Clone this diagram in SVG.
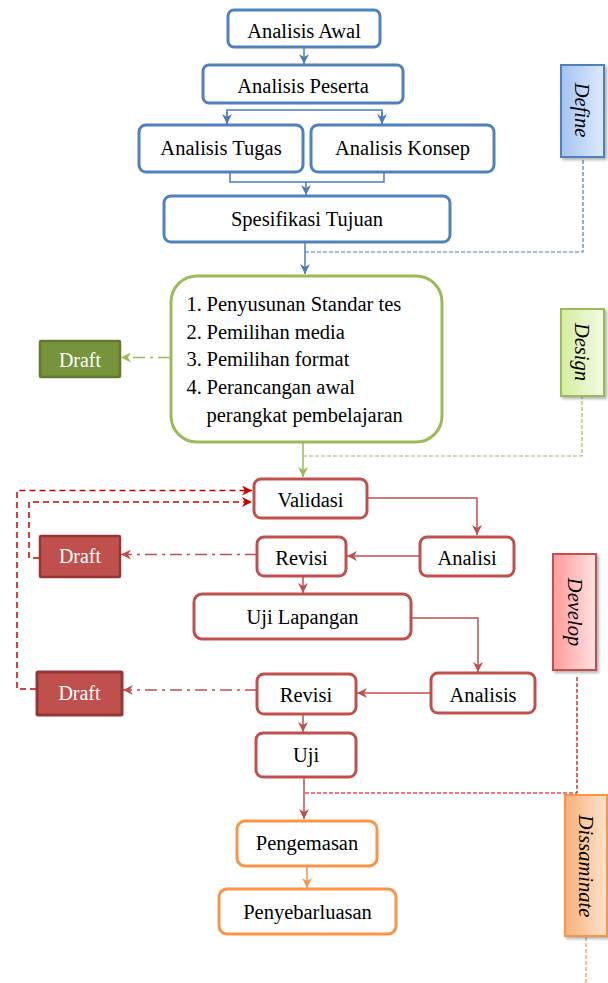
<svg xmlns="http://www.w3.org/2000/svg" width="608" height="983" viewBox="0 0 608 983">
<style>
text{font-family:"Liberation Serif","Times New Roman",serif;font-size:20.5px;fill:#000}
.c{text-anchor:middle}
.side{font-style:italic;text-anchor:middle;dominant-baseline:central}
.wt{fill:#fff;font-size:20px;text-anchor:middle}
.bb{fill:#fff;stroke:#4f81bd;stroke-width:3}
.gb{fill:#fff;stroke:#9bbb59;stroke-width:3}
.rb{fill:#fff;stroke:#c0504d;stroke-width:3}
.ob{fill:#fff;stroke:#f79646;stroke-width:3}
.bl{fill:none;stroke:#4a7ebb;stroke-width:1.5}
.gl{fill:none;stroke:#9bbb59;stroke-width:1.5}
.rl{fill:none;stroke:#c0504d;stroke-width:1.5}
.ol{fill:none;stroke:#f79646;stroke-width:1.5}
.dd{stroke-dasharray:4 2;stroke-width:1.2}
.dash{fill:none;stroke:#cc0000;stroke-width:1.5;stroke-dasharray:6 4}
.dashdot{stroke-dasharray:12 5 3 5}
</style>
<defs>
<marker id="ab" viewBox="0 0 10 10" refX="10" refY="5" markerWidth="10" markerHeight="10" markerUnits="userSpaceOnUse" orient="auto"><path d="M0,0 L10,5 L0,10 L3,5 z" fill="#4a7ebb"/></marker>
<marker id="ag" viewBox="0 0 10 10" refX="10" refY="5" markerWidth="10" markerHeight="10" markerUnits="userSpaceOnUse" orient="auto"><path d="M0,0 L10,5 L0,10 L3,5 z" fill="#9bbb59"/></marker>
<marker id="ar" viewBox="0 0 10 10" refX="10" refY="5" markerWidth="10" markerHeight="10" markerUnits="userSpaceOnUse" orient="auto"><path d="M0,0 L10,5 L0,10 L3,5 z" fill="#c0504d"/></marker>
<marker id="ard" viewBox="0 0 10 10" refX="10" refY="5" markerWidth="10" markerHeight="10" markerUnits="userSpaceOnUse" orient="auto"><path d="M0,0 L10,5 L0,10 L3,5 z" fill="#cc0000"/></marker>
<marker id="ao" viewBox="0 0 10 10" refX="10" refY="5" markerWidth="10" markerHeight="10" markerUnits="userSpaceOnUse" orient="auto"><path d="M0,0 L10,5 L0,10 L3,5 z" fill="#f79646"/></marker>
<linearGradient id="gBlue" x1="0" x2="1" y1="0" y2="0"><stop offset="0" stop-color="#a2c3f3"/><stop offset="1" stop-color="#dfeafb"/></linearGradient>
<linearGradient id="gGreen" x1="0" x2="1" y1="0" y2="0"><stop offset="0" stop-color="#d3ee9c"/><stop offset="1" stop-color="#f3fae4"/></linearGradient>
<linearGradient id="gRed" x1="0" x2="1" y1="0" y2="0"><stop offset="0" stop-color="#ff9a9a"/><stop offset="1" stop-color="#ffe3e3"/></linearGradient>
<linearGradient id="gOrange" x1="0" x2="1" y1="0" y2="0"><stop offset="0" stop-color="#fab07a"/><stop offset="1" stop-color="#fde3cc"/></linearGradient>
<filter id="sh" x="-20%" y="-20%" width="150%" height="150%"><feDropShadow dx="2" dy="2" stdDeviation="1.5" flood-color="#000" flood-opacity="0.3"/></filter>
</defs>

<g id="connectors">
<line class="bl" x1="304" y1="48" x2="304" y2="64" marker-end="url(#ab)"/>
<path class="bl" d="M227,124 V110 H382 V124" />
<line class="bl" x1="227" y1="112" x2="227" y2="124" marker-end="url(#ab)"/>
<line class="bl" x1="382" y1="112" x2="382" y2="124" marker-end="url(#ab)"/>
<path class="bl" d="M230,173 V182 H384 V173"/>
<line class="bl" x1="306" y1="182" x2="306" y2="195" marker-end="url(#ab)"/>
<line class="bl" x1="305" y1="242" x2="305" y2="274" marker-end="url(#ab)"/>
<path class="bl dd" d="M305,252 H583 V157"/>
<line class="gl dashdot" x1="170" y1="357.5" x2="121" y2="357.5" marker-end="url(#ag)"/>
<line class="gl" x1="303" y1="443" x2="303" y2="477" marker-end="url(#ag)"/>
<path class="gl dd" d="M303,456 H582 V396"/>
<path class="rl" d="M367,498 H477 V535" marker-end="url(#ar)"/>
<line class="rl" x1="420" y1="556" x2="347" y2="556" marker-end="url(#ar)"/>
<line class="rl" x1="303" y1="576" x2="303" y2="593" marker-end="url(#ar)"/>
<line class="rl dashdot" x1="257" y1="554.5" x2="121" y2="554.5" marker-end="url(#ar)"/>
<path class="rl" d="M411,618 H478 V672" marker-end="url(#ar)"/>
<line class="rl" x1="431" y1="693" x2="357" y2="693" marker-end="url(#ar)"/>
<line class="rl dashdot" x1="257" y1="690" x2="123" y2="690" marker-end="url(#ar)"/>
<line class="rl" x1="303" y1="714" x2="303" y2="732" marker-end="url(#ar)"/>
<line class="rl" x1="304" y1="778" x2="304" y2="819" marker-end="url(#ar)"/>
<path class="dash" d="M36,689 H17 V490.5 H252" marker-end="url(#ard)"/>
<path class="dash" d="M39,558 H29 V502 H252" marker-end="url(#ard)"/>
<path fill="none" stroke="#cc0000" stroke-width="1.2" stroke-dasharray="4 2" d="M305,793 H577 V675"/>
<line class="ol" x1="307" y1="866" x2="307" y2="888" marker-end="url(#ao)"/>
<line class="ol dd" x1="586" y1="937" x2="586" y2="983"/>
</g>

<g id="analisis-awal"><rect class="bb" x="228" y="10" width="152" height="37" rx="6"/><text class="c" x="304" y="38">Analisis Awal</text></g>
<g id="analisis-peserta"><rect class="bb" x="203" y="65" width="200" height="38" rx="6"/><text class="c" x="303" y="93">Analisis Peserta</text></g>
<g id="analisis-tugas"><rect class="bb" x="139" y="125" width="164" height="47" rx="7"/><text class="c" x="221" y="155">Analisis Tugas</text></g>
<g id="analisis-konsep"><rect class="bb" x="311" y="125" width="183" height="47" rx="7"/><text class="c" x="402.5" y="155">Analisis Konsep</text></g>
<g id="spesifikasi-tujuan"><rect class="bb" x="164" y="196" width="286" height="46" rx="7"/><text class="c" x="307" y="226">Spesifikasi Tujuan</text></g>
<g id="define"><rect x="561" y="65" width="43" height="92" fill="url(#gBlue)" stroke="#4f81bd" stroke-width="2" filter="url(#sh)"/><text class="side" transform="translate(582,110) rotate(90)">Define</text></g>

<g id="design-steps"><rect class="gb" x="171" y="276" width="271" height="166" rx="26"/>
<text x="186.5" y="311">1.</text><text x="206.5" y="311">Penyusunan Standar tes</text>
<text x="186.5" y="338.7">2.</text><text x="206.5" y="338.7">Pemilihan media</text>
<text x="186.5" y="366.4">3.</text><text x="206.5" y="366.4">Pemilihan format</text>
<text x="186.5" y="394">4.</text><text x="206.5" y="394">Perancangan awal</text>
<text x="206.5" y="421.7">perangkat pembelajaran</text></g>
<g id="draft-design"><rect x="40" y="341" width="80" height="36" fill="#77933c" stroke="#627a2f" stroke-width="2.5" rx="1"/><text class="wt" x="80" y="367">Draft</text></g>
<g id="design"><rect x="561" y="309" width="43" height="87" fill="url(#gGreen)" stroke="#9bbb59" stroke-width="2" filter="url(#sh)"/><text class="side" transform="translate(582,352) rotate(90)">Design</text></g>

<g id="validasi"><rect class="rb" x="254" y="479" width="113" height="39" rx="7"/><text class="c" x="310.5" y="506.5">Validasi</text></g>
<g id="revisi-1"><rect class="rb" x="257" y="537" width="89" height="39" rx="7"/><text class="c" x="301.5" y="565">Revisi</text></g>
<g id="analisi"><rect class="rb" x="420" y="537" width="94" height="39" rx="7"/><text class="c" x="467" y="565">Analisi</text></g>
<g id="draft-1"><rect x="40" y="536" width="80" height="41" fill="#c0504d" stroke="#943634" stroke-width="2.5" rx="1"/><text class="wt" x="80" y="563">Draft</text></g>
<g id="uji-lapangan"><rect class="rb" x="194" y="594" width="217" height="45" rx="8"/><text class="c" x="302.5" y="623.5">Uji Lapangan</text></g>
<g id="analisis"><rect class="rb" x="431" y="673" width="104" height="40" rx="7"/><text class="c" x="483" y="701.5">Analisis</text></g>
<g id="revisi-2"><rect class="rb" x="257" y="674" width="99" height="40" rx="7"/><text class="c" x="306" y="701.5">Revisi</text></g>
<g id="draft-2"><rect x="37" y="672" width="85" height="43" fill="#c0504d" stroke="#943634" stroke-width="3" rx="1"/><text class="wt" x="79.5" y="699.5">Draft</text></g>
<g id="uji"><rect class="rb" x="256" y="733" width="100" height="44" rx="7"/><text class="c" x="306" y="761.5">Uji</text></g>
<g id="develop"><rect x="553" y="554" width="43" height="116" fill="url(#gRed)" stroke="#c0504d" stroke-width="2" filter="url(#sh)"/><text class="side" transform="translate(574.5,612) rotate(90)">Develop</text></g>

<g id="pengemasan"><rect class="ob" x="237" y="821" width="140" height="45" rx="8"/><text class="c" x="307" y="850">Pengemasan</text></g>
<g id="penyebarluasan"><rect class="ob" x="219" y="889" width="177" height="45" rx="8"/><text class="c" x="307.5" y="918.5">Penyebarluasan</text></g>
<g id="dissaminate"><rect x="565" y="795" width="42" height="141" fill="url(#gOrange)" stroke="#f79646" stroke-width="2" filter="url(#sh)"/><text class="side" transform="translate(586,866) rotate(90)">Dissaminate</text></g>
</svg>
